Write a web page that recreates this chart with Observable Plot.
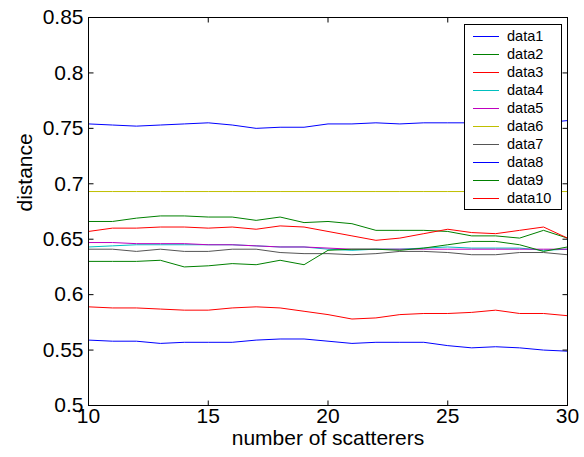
<!DOCTYPE html>
<html>
<head>
<meta charset="utf-8">
<script src="https://cdn.jsdelivr.net/npm/d3@7"></script>
<script src="https://cdn.jsdelivr.net/npm/@observablehq/plot@0.6"></script>
<style>
  html, body { margin: 0; padding: 0; background: #fff; }
  #wrap { position: relative; width: 584px; height: 457px; font-family: "Liberation Sans", Arial, sans-serif; }
  #legend { position: absolute; left: 464px; top: 24px; width: 98px; height: 186px; box-sizing: border-box;
            border: 1px solid #000; background: #fff; }
  .row { position: absolute; left: 0; height: 18px; width: 96px; }
  .swatch { position: absolute; left: 8px; top: 9px; width: 26px; height: 0; border-top: 1px solid; }
  .lbl { position: absolute; left: 42px; top: 0; line-height: 18px; font-size: 14.5px; color: #000; }
</style>
</head>
<body>
<div id="wrap"><div id="legend"></div></div>
<script>
const xValues = [10, 11, 12, 13, 14, 15, 16, 17, 18, 19, 20, 21, 22, 23, 24, 25, 26, 27, 28, 29, 30];

const data1  = [0.754, 0.753, 0.752, 0.753, 0.754, 0.755, 0.753, 0.750, 0.751, 0.751, 0.754, 0.754, 0.755, 0.754, 0.755, 0.755, 0.755, 0.755, 0.755, 0.755, 0.757];
const data2  = [0.666, 0.666, 0.669, 0.671, 0.671, 0.670, 0.670, 0.667, 0.670, 0.665, 0.666, 0.664, 0.658, 0.658, 0.658, 0.657, 0.653, 0.653, 0.651, 0.658, 0.651];
const data3  = [0.657, 0.660, 0.660, 0.661, 0.661, 0.660, 0.661, 0.659, 0.662, 0.661, 0.657, 0.653, 0.649, 0.651, 0.655, 0.659, 0.656, 0.655, 0.658, 0.661, 0.651];
const data4  = [0.643, 0.644, 0.645, 0.645, 0.645, 0.645, 0.645, 0.644, 0.643, 0.643, 0.641, 0.640, 0.641, 0.641, 0.642, 0.643, 0.642, 0.642, 0.642, 0.640, 0.641];
const data5  = [0.647, 0.647, 0.646, 0.646, 0.646, 0.645, 0.645, 0.644, 0.643, 0.643, 0.642, 0.641, 0.641, 0.641, 0.641, 0.641, 0.641, 0.641, 0.641, 0.641, 0.641];
const data6  = [0.693, 0.693, 0.693, 0.693, 0.693, 0.693, 0.693, 0.693, 0.693, 0.693, 0.693, 0.693, 0.693, 0.693, 0.693, 0.693, 0.693, 0.693, 0.693, 0.693, 0.693];
const data7  = [0.641, 0.641, 0.639, 0.641, 0.639, 0.639, 0.641, 0.641, 0.638, 0.637, 0.637, 0.636, 0.637, 0.639, 0.639, 0.638, 0.636, 0.636, 0.638, 0.638, 0.636];
const data8  = [0.559, 0.558, 0.558, 0.556, 0.557, 0.557, 0.557, 0.559, 0.560, 0.560, 0.558, 0.556, 0.557, 0.557, 0.557, 0.554, 0.552, 0.553, 0.552, 0.550, 0.549];
const data9  = [0.630, 0.630, 0.630, 0.631, 0.625, 0.626, 0.628, 0.627, 0.631, 0.627, 0.640, 0.641, 0.641, 0.640, 0.642, 0.645, 0.648, 0.648, 0.645, 0.639, 0.643];
const data10 = [0.589, 0.588, 0.588, 0.587, 0.586, 0.586, 0.588, 0.589, 0.588, 0.585, 0.582, 0.578, 0.579, 0.582, 0.583, 0.583, 0.584, 0.586, 0.583, 0.583, 0.581];

const seriesNames  = ["data1", "data2", "data3", "data4", "data5", "data6", "data7", "data8", "data9", "data10"];
const seriesColors = ["#0000ff", "#008000", "#ff0000", "#00bfbf", "#bf00bf", "#bfbf00", "#555555", "#0000ff", "#008000", "#ff0000"];
const seriesValues = [data1, data2, data3, data4, data5, data6, data7, data8, data9, data10];

const xTicks = [10, 15, 20, 25, 30];
const xTickLabels = ["10", "15", "20", "25", "30"];
const yTicks = [0.5, 0.55, 0.6, 0.65, 0.7, 0.75, 0.8, 0.85];
const yTickLabels = ["0.5", "0.55", "0.6", "0.65", "0.7", "0.75", "0.8", "0.85"];
const xLabel = "number of scatterers";
const yLabel = "distance";

const xMin = 10, xMax = 30, yMin = 0.5, yMax = 0.85;

// layout
const W = 584, H = 457, mL = 88, mR = 17, mT = 17, mB = 52;
const TICK = 5; // tick length in pixels, converted to data units below
const tickDX = (xMax - xMin) * TICK / (W - mL - mR);
const tickDY = (yMax - yMin) * TICK / (H - mT - mB);
const tickStyle = {stroke: "black", strokeWidth: 1};

const table = seriesNames.flatMap((name, s) =>
  xValues.map((x, i) => ({series: name, x, y: seriesValues[s][i]})));

const chart = Plot.plot({
  width: W, height: H,
  marginLeft: mL, marginRight: mR, marginTop: mT, marginBottom: mB,
  style: {fontFamily: "'Liberation Sans', Arial, sans-serif", fontSize: "21px", color: "black", background: "white", overflow: "visible"},
  x: {domain: [xMin, xMax]},
  y: {domain: [yMin, yMax]},
  color: {domain: seriesNames, range: seriesColors},
  marks: [
    Plot.line(table, {x: "x", y: "y", z: "series", stroke: "series", strokeWidth: 1}),
    Plot.frame({stroke: "black"}),
    // tick labels
    Plot.axisX(xTicks, {anchor: "bottom", tickSize: 0, tickPadding: 3, label: null, fontSize: 21,
      tickFormat: d => xTickLabels[xTicks.indexOf(d)]}),
    Plot.axisY(yTicks, {anchor: "left", tickSize: 0, tickPadding: 5, label: null, fontSize: 21,
      tickFormat: d => yTickLabels[yTicks.indexOf(d)]}),
    Plot.text([xLabel], {text: d => d, frameAnchor: "bottom", dy: 39, fontSize: 21}),
    Plot.text([yLabel], {text: d => d, frameAnchor: "left", rotate: -90, dx: -63, fontSize: 21}),
    // inward tick marks on all four sides, drawn as short links through the scales
    Plot.link(xTicks, {x1: d => d, x2: d => d, y1: yMin, y2: yMin + tickDY, ...tickStyle}),
    Plot.link(xTicks, {x1: d => d, x2: d => d, y1: yMax - tickDY, y2: yMax, ...tickStyle}),
    Plot.link(yTicks, {y1: d => d, y2: d => d, x1: xMin, x2: xMin + tickDX, ...tickStyle}),
    Plot.link(yTicks, {y1: d => d, y2: d => d, x1: xMax - tickDX, x2: xMax, ...tickStyle})
  ]
});
const wrap = document.getElementById("wrap");
wrap.insertBefore(chart, wrap.firstChild);

const legend = document.getElementById("legend");
seriesNames.forEach((name, i) => {
  const row = document.createElement("div");
  row.className = "row";
  row.style.top = (2 + 18 * i) + "px";
  const sw = document.createElement("div");
  sw.className = "swatch";
  sw.style.borderTopColor = seriesColors[i];
  const lb = document.createElement("div");
  lb.className = "lbl";
  lb.textContent = name;
  row.appendChild(sw);
  row.appendChild(lb);
  legend.appendChild(row);
});
</script>
</body>
</html>
